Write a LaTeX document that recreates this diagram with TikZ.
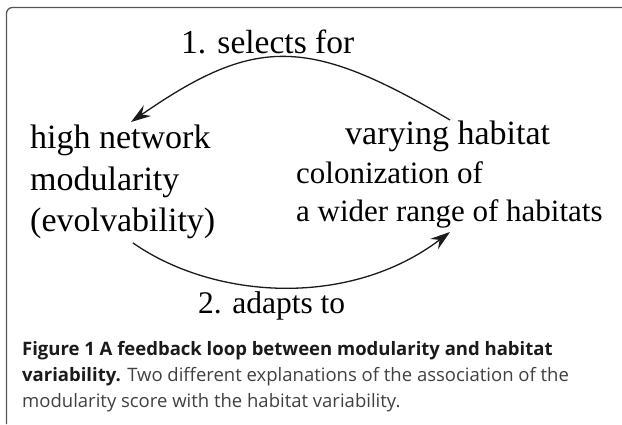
\documentclass[tikz,border=0pt]{standalone}
\usepackage{fontspec}
\setmainfont{Liberation Serif}
\newfontfamily\capfont{Open Sans}
\usetikzlibrary{arrows.meta}
\definecolor{framec}{HTML}{555555}
\definecolor{capbold}{HTML}{1A1A1A}
\definecolor{capreg}{HTML}{404040}
\definecolor{arrowc}{HTML}{1A1A1A}
\begin{document}
\begin{tikzpicture}[x=1pt,y=-1pt,
  lbl/.style={inner sep=0pt, anchor=base west, font=\fontsize{34}{40}\selectfont, text=black},
  smalllbl/.style={lbl, font=\fontsize{31}{38}\selectfont},
  caption/.style={inner sep=0pt, anchor=base west, font=\capfont\fontsize{18.5}{26}\selectfont, text=capreg},
  loop/.style={draw=arrowc, line width=1.3pt, -{Stealth[length=20pt,width=13pt,inset=7pt]}},
  ]
\useasboundingbox (0,0) rectangle (622,424);
\draw[framec, line width=1.3pt, rounded corners=6pt] (6.5,424) -- (6.5,7.5) -- (622,7.5);
\node[lbl, font=\fontsize{33.5}{40}\selectfont] (sel) at (181,53) {1. selects for};
\node[lbl] (hnm1) at (30,148) {high network};
\node[lbl] (hnm2) at (30,190) {modularity};
\node[lbl] (hnm3) at (30,231) {(evolvability)};
\node[lbl] (vh) at (345,144) {varying habitat};
\node[smalllbl] (col1) at (296,183) {colonization of};
\node[smalllbl] (col2) at (296,221) {a wider range of habitats};
\node[lbl, font=\fontsize{31.5}{38}\selectfont] (ada) at (198,313) {2. adapts to};
\coordinate (s1) at (450,120);
\coordinate (e1) at (131,122);
\draw[loop] (s1) .. controls (308,36) and (255,36) .. (e1);
\coordinate (s2) at (133,243);
\coordinate (e2) at (450,232);
\draw[loop] (s2) .. controls (215,300) and (350,308) .. (e2);
\node[caption] (cap1) at (22,355) {\textbf{\color{capbold}Figure 1 A feedback loop between modularity and habitat}};
\node[caption] (cap2) at (22,381) {\textbf{\color{capbold}variability.} Two different explanations of the association of the};
\node[caption] (cap3) at (22,407) {modularity score with the habitat variability.};
\end{tikzpicture}
\end{document}
